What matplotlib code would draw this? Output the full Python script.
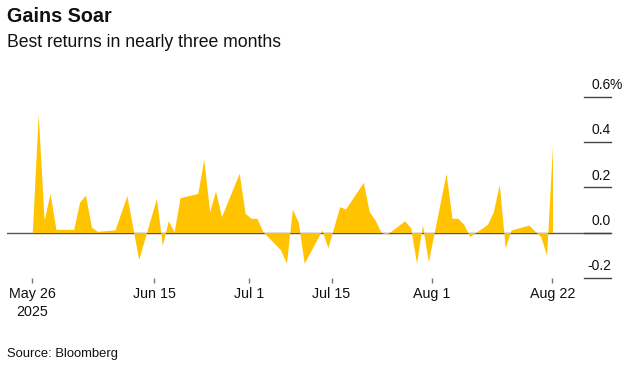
import pandas as pd
import matplotlib
matplotlib.use("Agg")
import matplotlib.pyplot as plt

plt.rcParams['font.family'] = ['Liberation Sans', 'DejaVu Sans']

dates = ["2025-05-26", "2025-05-27", "2025-05-28", "2025-05-29", "2025-05-30",
         "2025-06-02", "2025-06-03", "2025-06-04", "2025-06-05", "2025-06-06",
         "2025-06-09", "2025-06-11", "2025-06-13", "2025-06-16", "2025-06-17",
         "2025-06-18", "2025-06-19", "2025-06-20", "2025-06-23", "2025-06-24",
         "2025-06-25", "2025-06-26", "2025-06-27", "2025-06-30", "2025-07-01",
         "2025-07-02", "2025-07-03", "2025-07-04", "2025-07-07", "2025-07-08",
         "2025-07-09", "2025-07-10", "2025-07-11", "2025-07-14", "2025-07-15",
         "2025-07-17", "2025-07-18", "2025-07-21", "2025-07-22", "2025-07-23",
         "2025-07-24", "2025-07-25", "2025-07-28", "2025-07-29", "2025-07-30",
         "2025-07-31", "2025-08-01", "2025-08-04", "2025-08-05", "2025-08-06",
         "2025-08-07", "2025-08-08", "2025-08-11", "2025-08-12", "2025-08-13",
         "2025-08-14", "2025-08-15", "2025-08-18", "2025-08-19", "2025-08-20",
         "2025-08-21", "2025-08-22"]
returns = [0.0, 0.523, 0.055, 0.173, 0.014,
           0.014, 0.134, 0.166, 0.024, 0.005,
           0.012, 0.163, -0.119, 0.151, -0.058,
           0.052, 0.004, 0.154, 0.173, 0.325,
           0.092, 0.184, 0.07, 0.262, 0.085,
           0.063, 0.063, 0.004, -0.077, -0.136,
           0.104, 0.045, -0.136, 0.011, -0.067,
           0.114, 0.104, 0.222, 0.092, 0.055,
           0.0, -0.008, 0.052, 0.021, -0.136,
           0.033, -0.13, 0.262, 0.063, 0.063,
           0.036, -0.018, 0.036, 0.092, 0.213,
           -0.067, 0.011, 0.033, 0.007, -0.018,
           -0.1, 0.384]

tick_dates = ["2025-05-26", "2025-06-15", "2025-07-01", "2025-07-15", "2025-08-01", "2025-08-22"]
tick_labels = ["May 26\n2025", "Jun 15", "Jul 1", "Jul 15", "Aug 1", "Aug 22"]
# bloomberg puts the inner ticks a little past midnight
tick_shift_hours = [0, 15, 15, 15, 15, 0]
y_ticks = [-0.2, 0.0, 0.2, 0.4, 0.6]

x = pd.to_datetime(dates)
start = pd.Timestamp("2025-05-26")

fig = plt.figure(figsize=(6.33, 3.68), dpi=100)
ax = fig.add_axes([7 / 633, 1 - 278 / 368, 604 / 633, 198 / 368])

ax.axhline(0, color="#555555", lw=1, zorder=1)
ax.fill_between(x, returns, 0, color="#FFC300", lw=0, interpolate=True, zorder=2)

ax.set_xlim(start - pd.Timedelta(days=4.28), start + pd.Timedelta(days=97.9))
ax.set_ylim(-0.2013, 0.6748)

for v in y_ticks:
    ax.axhline(v, xmin=0.955, xmax=1, color="#444444", lw=1, clip_on=False, zorder=3)
    lab = f"{v:.1f}"
    ax.annotate(lab, xy=(1, v), xycoords=("axes fraction", "data"),
                xytext=(0, 5.5), textcoords="offset points",
                ha="right", va="baseline", fontsize=10, color="#111111")
    if v == y_ticks[-1]:
        ax.annotate("%", xy=(1, v), xycoords=("axes fraction", "data"),
                    xytext=(-0.8, 5.5), textcoords="offset points",
                    ha="left", va="baseline", fontsize=10, color="#111111")

ticks = [pd.Timestamp(d) + pd.Timedelta(hours=h) for d, h in zip(tick_dates, tick_shift_hours)]
ax.set_xticks(ticks)
ax.set_xticklabels(tick_labels, fontsize=10.3, linespacing=1.3)
ax.tick_params(axis="x", length=3.8, width=1, color="#777777", pad=3, labelcolor="#111111")
ax.set_yticks([])
for s in ax.spines.values():
    s.set_visible(False)

fig.text(7 / 633, 1 - 22 / 368, "Gains Soar", fontsize=14.2, fontweight="bold", color="#111111")
fig.text(7 / 633, 1 - 47 / 368, "Best returns in nearly three months", fontsize=12.7, color="#111111")
fig.text(7 / 633, 1 - 357 / 368, "Source: Bloomberg", fontsize=9.4, color="#111111")

fig.savefig("out.png", dpi=100)
